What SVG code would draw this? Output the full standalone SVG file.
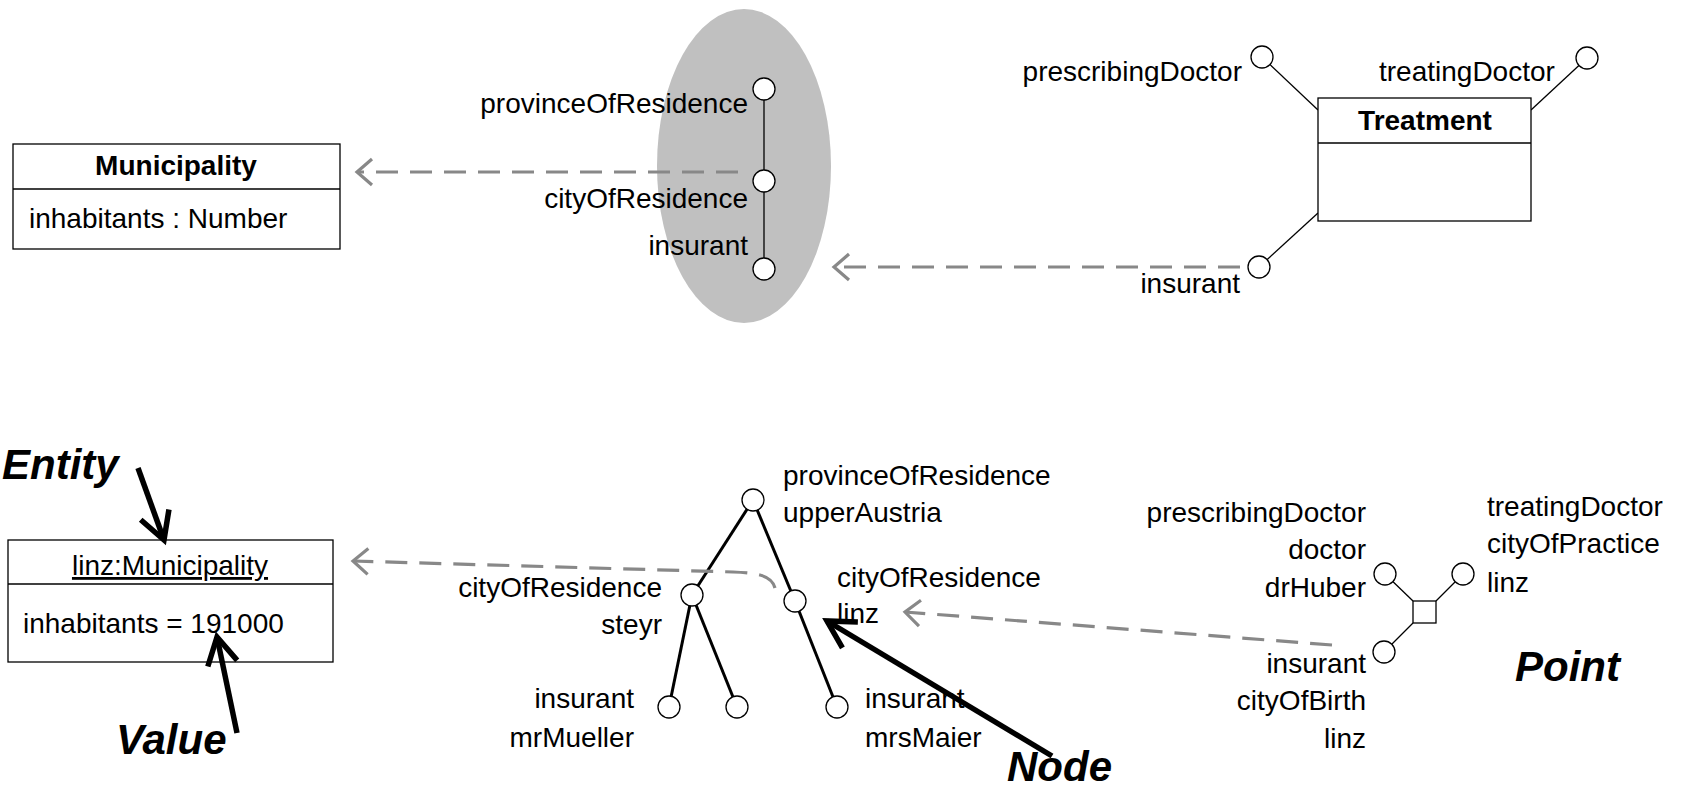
<svg xmlns="http://www.w3.org/2000/svg" width="1694" height="792" viewBox="0 0 1694 792">
<style>
text{font-family:"Liberation Sans",Arial,sans-serif;font-size:28px;fill:#000}
.b{font-weight:bold}
.lab{font-weight:bold;font-style:italic;font-size:42px}
.r{text-anchor:end}
.m{text-anchor:middle}
.box{fill:#fff;stroke:#000;stroke-width:1.3}
.pt{fill:#fff;stroke:#000;stroke-width:1.3}
.thin{stroke:#000;stroke-width:1.3;fill:none}
.tree{stroke:#000;stroke-width:3;fill:none}
.dash{stroke:#888;stroke-width:3.2;fill:none;stroke-dasharray:22 12;marker-end:url(#gray)}
.big{stroke:#000;stroke-width:5.5;fill:none;marker-end:url(#black)}
</style>
<defs>
<marker id="gray" markerUnits="userSpaceOnUse" markerWidth="40" markerHeight="40" viewBox="-20 -20 40 40" refX="0" refY="0" orient="auto" overflow="visible">
<path d="M -15 -13 L 0 0 L -15 13" fill="none" stroke="#888" stroke-width="3.2" stroke-dasharray="none"/>
</marker>
<marker id="black" markerUnits="userSpaceOnUse" markerWidth="60" markerHeight="60" viewBox="-30 -30 60 60" refX="0" refY="0" orient="auto" overflow="visible">
<path d="M -27 -15 L 0 0 L -27 15" fill="none" stroke="#000" stroke-width="5.5" stroke-linejoin="miter"/>
</marker>
</defs>

<ellipse id="scope" cx="744" cy="166" rx="87" ry="157" fill="#c0c0c0"/>

<g id="connectors">
<line class="thin" x1="764" y1="89" x2="764" y2="269"/>
<line class="thin" x1="1262" y1="57" x2="1318" y2="110"/>
<line class="thin" x1="1587" y1="58" x2="1531" y2="110"/>
<line class="thin" x1="1259" y1="267" x2="1318" y2="213"/>
<path class="dash" d="M 738 172 L 357 172"/>
<path class="dash" d="M 1240 267 L 834 267"/>
<line class="tree" x1="753" y1="500" x2="692" y2="595"/>
<line class="tree" x1="753" y1="500" x2="795" y2="601"/>
<line class="tree" x1="692" y1="595" x2="669" y2="707"/>
<line class="tree" x1="692" y1="595" x2="737" y2="707"/>
<line class="tree" x1="795" y1="601" x2="837" y2="707"/>
<line class="thin" x1="1385" y1="574" x2="1413" y2="601"/>
<line class="thin" x1="1463" y1="574" x2="1436" y2="601"/>
<line class="thin" x1="1384" y1="652" x2="1413" y2="623"/>
<path class="dash" d="M 775 588 C 772 576 760 573 733 572 L 353 561"/>
<path class="dash" d="M 1332 645 L 905 612"/>
</g>

<g id="municipality">
<rect class="box" x="13" y="144" width="327" height="105"/>
<line class="thin" x1="13" y1="189" x2="340" y2="189"/>
<text class="b m" x="176" y="175">Municipality</text>
<text x="29" y="228">inhabitants : Number</text>
</g>

<g id="path-type">
<circle class="pt" cx="764" cy="89" r="11"/>
<circle class="pt" cx="764" cy="181" r="11"/>
<circle class="pt" cx="764" cy="269" r="11"/>
<text class="r" x="748" y="113">provinceOfResidence</text>
<text class="r" x="748" y="208">cityOfResidence</text>
<text class="r" x="748" y="255">insurant</text>
</g>

<g id="treatment">
<rect class="box" x="1318" y="98" width="213" height="123"/>
<line class="thin" x1="1318" y1="143" x2="1531" y2="143"/>
<text class="b m" x="1425" y="130">Treatment</text>
<circle class="pt" cx="1262" cy="57" r="11"/>
<circle class="pt" cx="1587" cy="58" r="11"/>
<circle class="pt" cx="1259" cy="267" r="11"/>
<text class="r" x="1242" y="81">prescribingDoctor</text>
<text x="1379" y="81">treatingDoctor</text>
<text class="r" x="1240" y="293">insurant</text>
</g>

<g id="linz">
<rect class="box" x="8" y="540" width="325" height="122"/>
<line class="thin" x1="8" y1="584" x2="333" y2="584"/>
<text class="m" x="170" y="575" text-decoration="underline">linz:Municipality</text>
<text x="23" y="633">inhabitants = 191000</text>
</g>

<g id="tree">
<circle class="pt" cx="753" cy="500" r="11"/>
<circle class="pt" cx="692" cy="595" r="11"/>
<circle class="pt" cx="795" cy="601" r="11"/>
<circle class="pt" cx="669" cy="707" r="11"/>
<circle class="pt" cx="737" cy="707" r="11"/>
<circle class="pt" cx="837" cy="707" r="11"/>
<text x="783" y="485">provinceOfResidence</text>
<text x="783" y="522">upperAustria</text>
<text class="r" x="662" y="597">cityOfResidence</text>
<text class="r" x="662" y="634">steyr</text>
<text x="837" y="587">cityOfResidence</text>
<text x="837" y="623">linz</text>
<text class="r" x="634" y="708">insurant</text>
<text class="r" x="634" y="747">mrMueller</text>
<text x="865" y="708">insurant</text>
<text x="865" y="747">mrsMaier</text>
</g>

<g id="point">
<rect class="box" x="1413" y="601" width="23" height="22"/>
<circle class="pt" cx="1385" cy="574" r="11"/>
<circle class="pt" cx="1463" cy="574" r="11"/>
<circle class="pt" cx="1384" cy="652" r="11"/>
<text class="r" x="1366" y="522">prescribingDoctor</text>
<text class="r" x="1366" y="559">doctor</text>
<text class="r" x="1366" y="597">drHuber</text>
<text x="1487" y="516">treatingDoctor</text>
<text x="1487" y="553">cityOfPractice</text>
<text x="1487" y="592">linz</text>
<text class="r" x="1366" y="673">insurant</text>
<text class="r" x="1366" y="710">cityOfBirth</text>
<text class="r" x="1366" y="748">linz</text>
</g>

<g id="annotations">
<text class="lab" x="2" y="479">Entity</text>
<text class="lab" x="116" y="754">Value</text>
<text class="lab" x="1007" y="781">Node</text>
<text class="lab" x="1515" y="681">Point</text>
<path class="big" d="M 138 468 L 164 540"/>
<path class="big" d="M 237 733 L 217 637"/>
<path class="big" d="M 1052 756 L 827 621"/>
</g>
</svg>
